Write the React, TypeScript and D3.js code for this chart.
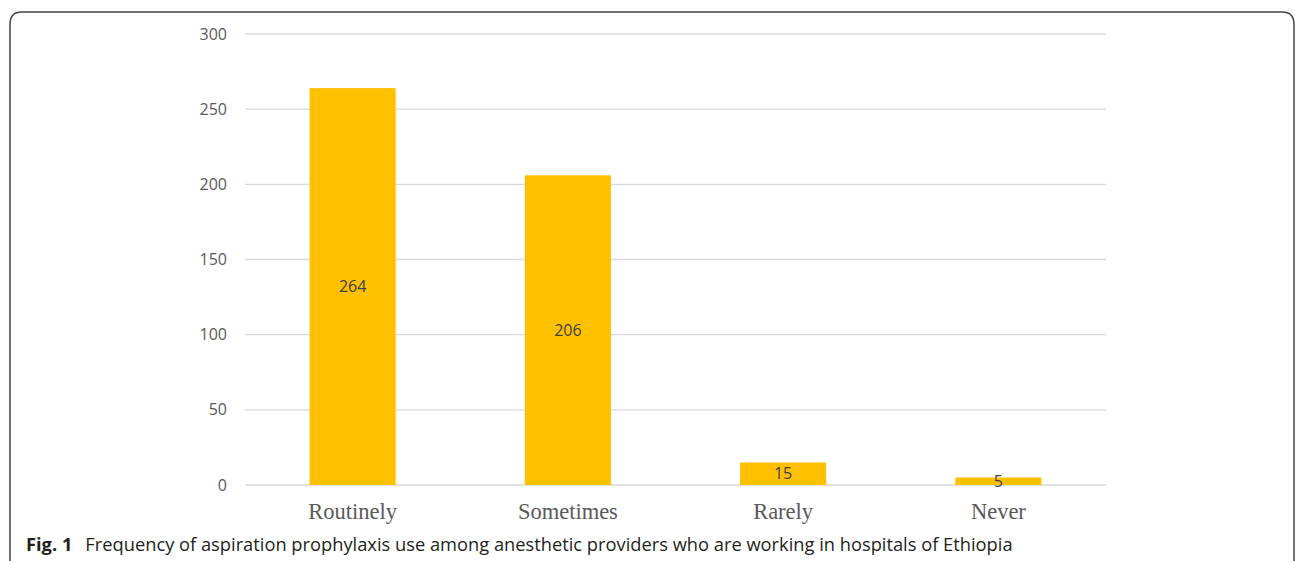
import React from "react";
import * as d3 from "d3";

const categories = ["Routinely", "Sometimes", "Rarely", "Never"];
const counts = [264, 206, 15, 5];
const yTicks = [0, 50, 100, 150, 200, 250, 300];
const captionLabel = "Fig. 1";
const captionText = "Frequency of aspiration prophylaxis use among anesthetic providers who are working in hospitals of Ethiopia";

export default function App() {
  const W = 1295, H = 561;
  const x = d3.scaleBand<string>().domain(categories).range([245, 1106]).paddingInner(0.6).paddingOuter(0.3);
  const y = d3.scaleLinear().domain([0, 300]).range([485, 34]);
  const r = 12;
  const frame = `M10,${H + 5} L10,${12 + r} Q10,12 ${10 + r},12 L${1294 - r},12 Q1294,12 1294,${12 + r} L1294,${H + 5}`;
  return (
    <svg width={W} height={H} style={{ position: "absolute", left: 0, top: 0, background: "#fff" }}>
      <path d={frame} fill="none" stroke="#444" strokeWidth={1.5} />
      {yTicks.map((t) => (
        <g key={t}>
          <line x1={245} x2={1106} y1={y(t)} y2={y(t)} stroke="#d9d9d9" strokeWidth={1.3} />
          <text x={227} y={y(t)} dy="0.35em" textAnchor="end" fontFamily="Open Sans" fontSize={16} fill="#595959">{t}</text>
        </g>
      ))}
      {categories.map((c, i) => (
        <g key={c}>
          <rect x={x(c)} y={y(counts[i])} width={x.bandwidth()} height={y(0) - y(counts[i])} fill="#FFC000" />
          <text x={x(c)! + x.bandwidth() / 2} y={(y(counts[i]) + y(0)) / 2} dy="0.35em" textAnchor="middle" fontFamily="Open Sans" fontSize={16} fill="#404040">{counts[i]}</text>
          <text x={x(c)! + x.bandwidth() / 2} y={519} textAnchor="middle" fontFamily="Liberation Serif" fontSize={22.5} fill="#595959">{c}</text>
        </g>
      ))}
      <text x={26} y={551} fontFamily="Open Sans" fontSize={18.3} fill="#231f20">
        <tspan fontWeight="bold">{captionLabel}</tspan>
        <tspan dx={13}>{captionText}</tspan>
      </text>
    </svg>
  );
}
